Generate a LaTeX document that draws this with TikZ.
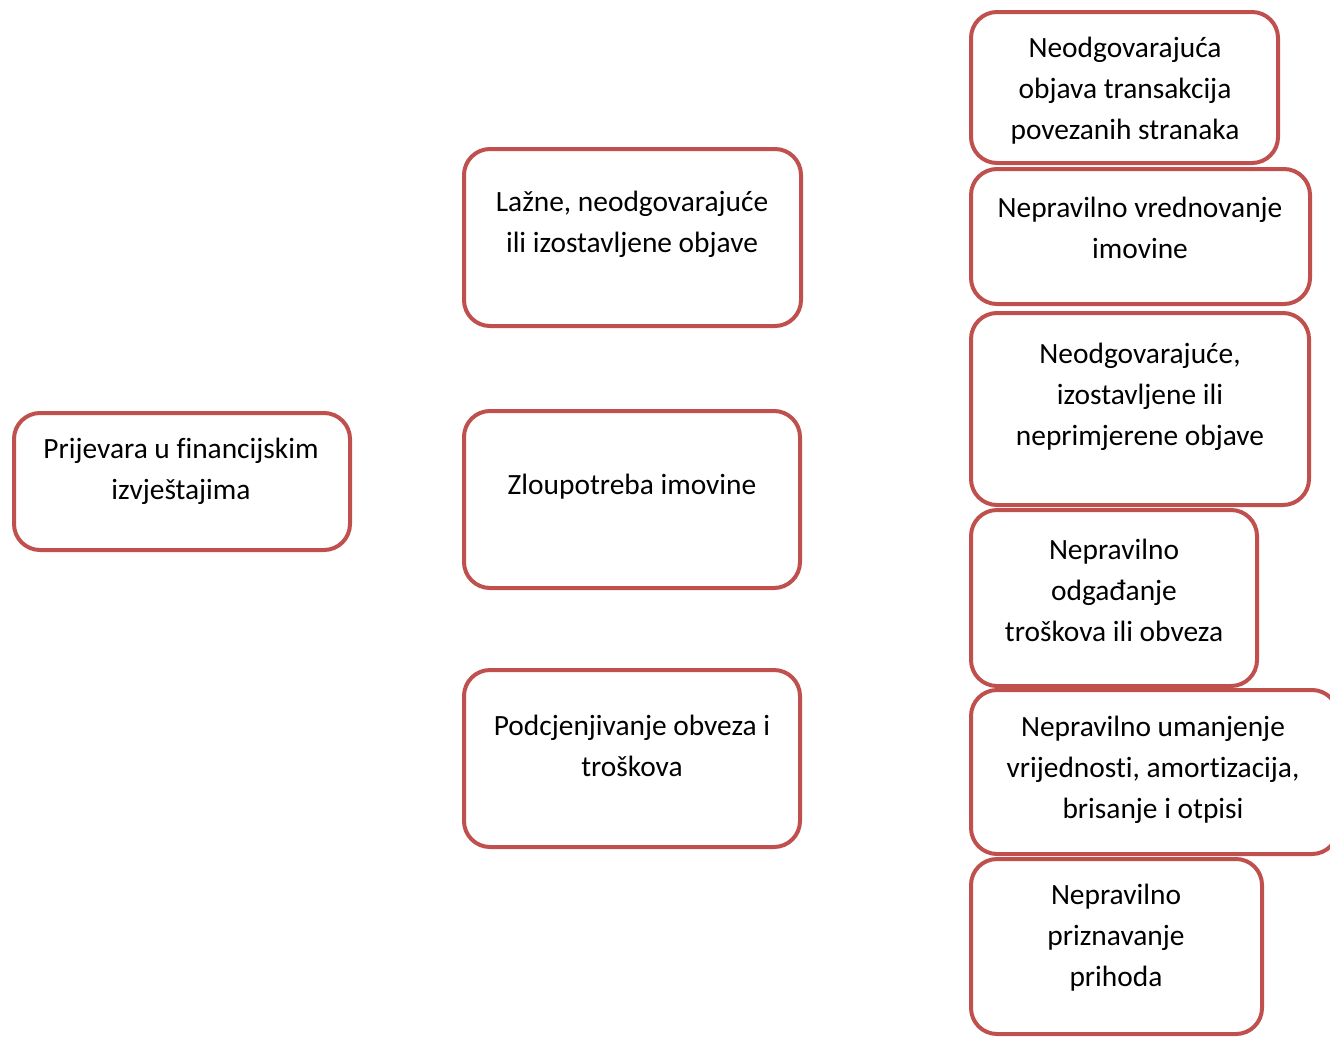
\documentclass[tikz,border=0pt]{standalone}
\usepackage{fontspec}
\setmainfont{Carlito}[Ligatures={NoCommon}]
\definecolor{boxred}{RGB}{192,80,77}
\tikzset{
  x=1pt,y=-1pt,
  box/.style={draw=boxred,line width=4pt,rounded corners=26pt,fill=white,inner sep=0pt},
  txt/.style={align=center,inner sep=0pt,font=\fontsize{29.4}{41}\selectfont}
}
\begin{document}
\begin{tikzpicture}
\useasboundingbox (0,0) rectangle (1330,1036);
% boxes
\draw[box] (14,413) rectangle (350,550) node[midway] (b0) {};
\draw[box] (464,149) rectangle (801,326) node[midway] (m1) {};
\draw[box] (464,411) rectangle (800,588) node[midway] (m2) {};
\draw[box] (464,670) rectangle (800,847) node[midway] (m3) {};
\draw[box] (971,12) rectangle (1278,163) node[midway] (r1) {};
\draw[box] (971,169) rectangle (1310,304) node[midway] (r2) {};
\draw[box] (971,313) rectangle (1309,505) node[midway] (r3) {};
\draw[box] (971,510) rectangle (1257,686) node[midway] (r4) {};
\draw[box] (971,690) rectangle (1338,854) node[midway] (r5) {};
\draw[box] (971,859) rectangle (1262,1034) node[midway] (r6) {};
% texts
\node[txt] (t0) at (181,471.5) {Prijevara u financijskim\\izvještajima};
\node[txt] (tm1) at (632,224.5) {Lažne, neodgovarajuće\\ili izostavljene objave};
\node[txt] (tm2) at (632,487) {Zloupotreba imovine};
\node[txt] (tm3) at (632,746) {Podcjenjivanje obveza i\\troškova};
\node[txt] (tr1) at (1125,90.5) {Neodgovarajuća\\objava transakcija\\povezanih stranaka};
\node[txt] (tr2) at (1140,227.5) {Nepravilno vrednovanje\\imovine};
\node[txt] (tr3) at (1140,396.5) {Neodgovarajuće,\\izostavljene ili\\neprimjerene objave};
\node[txt] (tr4) at (1114,590) {Nepravilno\\odgađanje\\troškova ili obveza};
\node[txt] (tr5) at (1153,770) {Nepravilno umanjenje\\vrijednosti, amortizacija,\\brisanje i otpisi};
\node[txt] (tr6) at (1116,938) {Nepravilno\\priznavanje\\prihoda};
\end{tikzpicture}
\end{document}
